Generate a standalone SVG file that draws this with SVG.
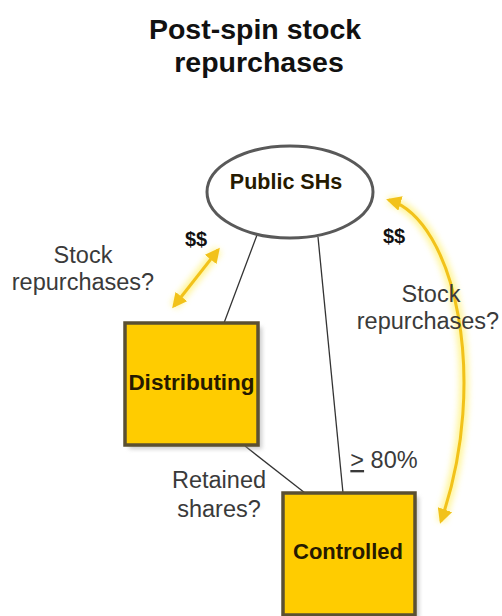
<svg xmlns="http://www.w3.org/2000/svg" width="502" height="616" viewBox="0 0 502 616">
<style>
.title{font-family:"Liberation Sans",Arial,sans-serif;font-weight:bold;font-size:28.5px;fill:#111;text-anchor:middle}
.lbl{font-family:"Liberation Sans",Arial,sans-serif;font-size:23.5px;fill:#3a3a3a;text-anchor:middle}
.dol{font-family:"Liberation Sans",Arial,sans-serif;font-weight:bold;font-size:20px;fill:#111;text-anchor:middle}
.node{font-family:"Liberation Sans",Arial,sans-serif;font-weight:bold;fill:#261a00;text-anchor:middle}
.box{fill:#FFCC00;stroke:#5B5032;stroke-width:3.5}
.shadow{fill:#999;opacity:0.5;filter:url(#sh)}
.conn{stroke:#333;stroke-width:1.3;fill:none}
.glow{stroke:#FFF066;stroke-width:9;fill:none;opacity:0.7;filter:url(#gl)}
.arr{stroke:#F2C21A;stroke-width:3;fill:none;marker-start:url(#ah);marker-end:url(#ah)}
</style>
<defs>
<filter id="gl" x="-50%" y="-50%" width="200%" height="200%"><feGaussianBlur stdDeviation="3"/></filter>
<filter id="sh" x="-20%" y="-20%" width="140%" height="140%"><feGaussianBlur stdDeviation="2"/></filter>
<marker id="ah" viewBox="0 0 10 10" refX="8" refY="5" markerWidth="5" markerHeight="5" orient="auto-start-reverse" markerUnits="strokeWidth">
<path d="M0,0 L10,5 L0,10 z" fill="#F2C21A"/>
</marker>
</defs>
<rect width="502" height="616" fill="#fff"/>
<g id="title">
<text class="title" x="255" y="39">Post-spin stock</text>
<text class="title" x="259" y="72">repurchases</text>
</g>
<g id="connectors">
<line class="conn" x1="257" y1="235" x2="224" y2="323"/>
<line class="conn" x1="318" y1="237" x2="343" y2="493"/>
<line class="conn" x1="245" y1="446" x2="305" y2="493"/>
<line class="glow" x1="218" y1="250" x2="174" y2="306"/>
<line class="arr" x1="218" y1="250" x2="174" y2="306"/>
<path class="glow" d="M389 200 C455 220,490 380,441 521"/>
<path class="arr" d="M389 200 C455 220,490 380,441 521"/>
</g>
<g id="public-shs">
<ellipse cx="290" cy="192" rx="83" ry="46" fill="#fff" stroke="#595959" stroke-width="3"/>
<text class="node" x="286" y="189" font-size="21.5">Public SHs</text>
</g>
<g id="distributing">
<rect class="shadow" x="129" y="327" width="133" height="122"/>
<rect class="box" x="125" y="323" width="133" height="122"/>
<text class="node" x="191.5" y="390" font-size="22.5">Distributing</text>
</g>
<g id="controlled">
<rect class="shadow" x="287" y="497" width="132" height="122"/>
<rect class="box" x="283" y="493" width="132" height="122"/>
<text class="node" x="348" y="559" font-size="22">Controlled</text>
</g>
<g id="labels">
<text class="dol" x="196" y="246">$$</text>
<text class="dol" x="394" y="243">$$</text>
<text class="lbl" x="83" y="263">Stock</text>
<text class="lbl" x="83" y="290">repurchases?</text>
<text class="lbl" x="431" y="302">Stock</text>
<text class="lbl" x="428" y="329">repurchases?</text>
<text class="lbl" x="219" y="488">Retained</text>
<text class="lbl" x="219" y="517">shares?</text>
<text class="lbl" x="384" y="468"><tspan text-decoration="underline">&gt;</tspan> 80%</text>
</g>
</svg>
